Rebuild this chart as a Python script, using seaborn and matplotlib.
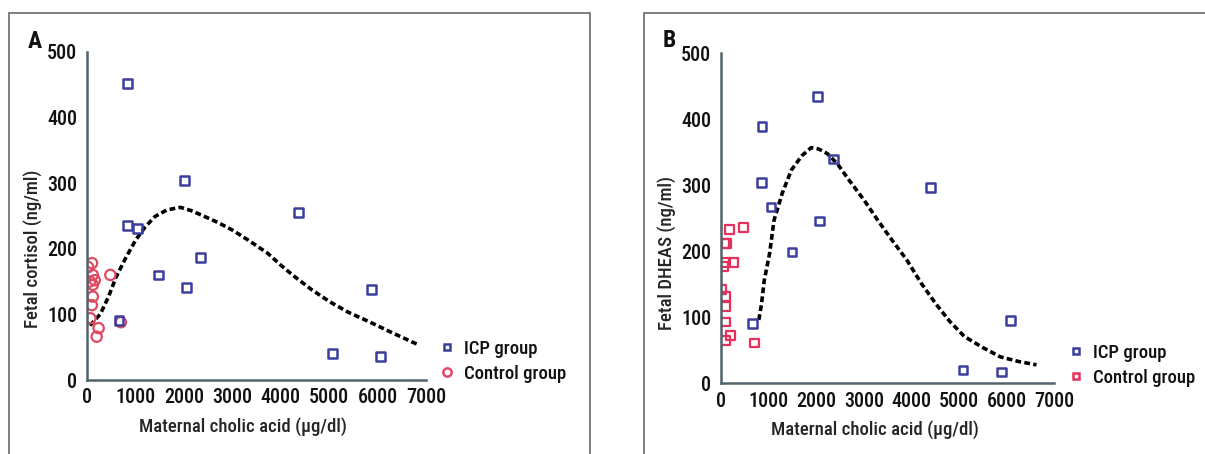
import numpy as np
import pandas as pd
import seaborn as sns
import matplotlib.pyplot as plt
from matplotlib.patches import Rectangle
from matplotlib.lines import Line2D

# panel A: fetal cortisol
a_icp_x = [843, 2020, 843, 1035, 4370, 2350, 1476, 2055, 5880, 660, 5065, 6065]
a_icp_y = [452, 304, 235, 231, 255, 187, 160, 141, 138, 91, 40, 36]
a_ctrl_x = [25, 104, 120, 160, 120, 120, 100, 70, 240, 200, 482, 700, 60]
a_ctrl_y = [172, 178, 160, 152, 145, 127, 114, 94, 79, 66, 160, 88, 150]
a_fit_x = [60, 150, 281, 450, 602, 800, 1004, 1200, 1404, 1650, 1926, 2150, 2368, 2700,
           3010, 3350, 3731, 4000, 4294, 4650, 5016, 5400, 5818, 6300, 6861]
a_fit_y = [83, 90, 101, 128, 157, 186, 213, 233, 249, 259, 263, 258, 251, 240,
           228, 212, 193, 175, 157, 137, 119, 103, 89, 72, 53]

# panel B: fetal DHEAS
b_icp_x = [2020, 863, 847, 2370, 4391, 1052, 2067, 1491, 658, 6071, 5080, 5889]
b_icp_y = [435, 389, 304, 340, 297, 267, 246, 199, 91, 95, 20, 17]
b_ctrl_x = [477, 174, 113, 80, 265, 90, 53, 23, 90, 90, 90, 204, 90, 704]
b_ctrl_y = [236, 233, 212, 212, 183, 183, 177, 142, 132, 116, 93, 73, 65, 61]
b_fit_x = [794, 850, 908, 1021, 1113, 1286, 1477, 1700, 1892, 2050, 2233, 2450, 2687,
           3000, 3292, 3600, 3899, 4200, 4504, 4800, 5109, 5500, 5867, 6250, 6624]
b_fit_y = [96, 120, 156, 197, 247, 288, 323, 345, 357, 355, 348, 332, 308,
           278, 247, 216, 187, 152, 121, 94, 71, 54, 40, 33, 28]

x_ticks = [0, 1000, 2000, 3000, 4000, 5000, 6000, 7000]
y_ticks = [0, 100, 200, 300, 400, 500]

blue = '#3b3f9c'
red_a = '#e04a63'
red_b = '#e8305a'
spine_col = '#51636b'

sns.set_style('white')
plt.rcParams['font.family'] = ['Roboto Condensed', 'Liberation Sans Narrow', 'DejaVu Sans']
plt.rcParams['font.stretch'] = 'condensed'
plt.rcParams['font.weight'] = 'medium'
plt.rcParams['axes.labelweight'] = 'medium'
plt.rcParams['font.size'] = 13
plt.rcParams['text.color'] = '#111111'

fig = plt.figure(figsize=(12.05, 4.54), dpi=100)

# panel frames
fig.patches.append(Rectangle((8.5 / 1205, -0.1), (590 - 8.5) / 1205, 1.1 - 12.7 / 454,
                             transform=fig.transFigure, fill=False, ec='#6a6a6a', lw=1.2))
fig.patches.append(Rectangle((644 / 1205, -0.1), 0.5, 1.1 - 12.7 / 454,
                             transform=fig.transFigure, fill=False, ec='#6a6a6a', lw=1.2))

axA = fig.add_axes([87 / 1205, 1 - 380 / 454, (426 - 87) / 1205, (380 - 51.7) / 454])
axB = fig.add_axes([721 / 1205, 1 - 383.3 / 454, (1054.4 - 721) / 1205, (383.3 - 53.3) / 454])


def panel(ax, icp_x, icp_y, ctrl_x, ctrl_y, fit_x, fit_y, ctrl_marker, ctrl_col, ctrl_size,
          ylabel, letter, letter_pos, lab_pos, leg_anchor):
    sns.lineplot(x=fit_x, y=fit_y, sort=False, color='black', lw=2.6,
                 linestyle=(0, (1.6, 0.9)), ax=ax, zorder=1)
    sns.scatterplot(x=ctrl_x, y=ctrl_y, marker=ctrl_marker, s=ctrl_size, facecolor='none',
                    edgecolor=ctrl_col, linewidth=1.6, ax=ax, zorder=2)
    sns.scatterplot(x=icp_x, y=icp_y, marker='s', s=40, facecolor='none',
                    edgecolor=blue, linewidth=1.8, ax=ax, zorder=3)
    ax.set_xlim(0, 7000)
    ax.set_ylim(0, 500)
    ax.set_xticks(x_ticks)
    ax.set_yticks(y_ticks)
    ax.tick_params(axis='y', length=4, width=1.2, color=spine_col, pad=3, labelsize=14.5,
                   labelcolor='#111111')
    ax.tick_params(axis='x', length=0, pad=6, labelsize=14.5, labelcolor='#111111')
    for s in ['top', 'right']:
        ax.spines[s].set_visible(False)
    for s in ['left', 'bottom']:
        ax.spines[s].set_color(spine_col)
        ax.spines[s].set_linewidth(1.8)
    ax.set_xlabel('Maternal cholic acid (μg/dl)', fontsize=13.5, fontweight='medium',
                  labelpad=7, x=lab_pos[0])
    ax.set_ylabel(ylabel, fontsize=13.5, fontweight='medium', labelpad=4, y=lab_pos[1])
    ax.text(letter_pos[0], letter_pos[1], letter, transform=ax.transAxes, fontsize=17,
            fontweight='bold', ha='center', va='center')
    handles = [
        Line2D([], [], marker='s', ls='none', mfc='none', mec=blue, mew=1.8, ms=5),
        Line2D([], [], marker=ctrl_marker, ls='none', mfc='none', mec=ctrl_col, mew=1.8,
               ms=6 if ctrl_marker == 'o' else 5),
    ]
    ax.legend(handles, ['ICP group', 'Control group'], loc='center left',
              bbox_to_anchor=leg_anchor, frameon=False, fontsize=13.5,
              handletextpad=0.3, handlelength=1.2, labelspacing=0.38, borderaxespad=0)


panel(axA, a_icp_x, a_icp_y, a_ctrl_x, a_ctrl_y, a_fit_x, a_fit_y, 'o', red_a, 55,
      'Fetal cortisol (ng/ml)', 'A', (-0.155, 1.031), (0.459, 0.40), (1.008, 0.057))
panel(axB, b_icp_x, b_icp_y, b_ctrl_x, b_ctrl_y, b_fit_x, b_fit_y, 's', red_b, 40,
      'Fetal DHEAS (ng/ml)', 'B', (-0.154, 1.04), (0.462, 0.395), (1.009, 0.055))

plt.savefig('out.png', dpi=100)
